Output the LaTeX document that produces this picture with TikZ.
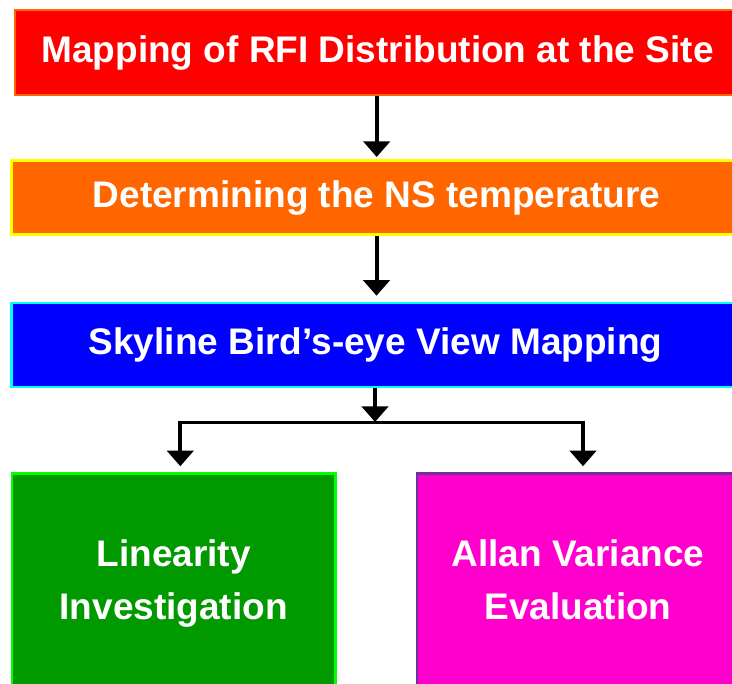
\documentclass[tikz,border=0pt]{standalone}
\usepackage{fontspec}
\setmainfont{Liberation Sans}
\usetikzlibrary{arrows.meta}

\definecolor{cRed}{HTML}{FF0000}
\definecolor{cOrange}{HTML}{FF6600}
\definecolor{cYellow}{HTML}{FFFF00}
\definecolor{cBlue}{HTML}{0000FF}
\definecolor{cCyan}{HTML}{00FFFF}
\definecolor{cGreen}{HTML}{009900}
\definecolor{cLime}{HTML}{00FF00}
\definecolor{cMagenta}{HTML}{FF00CC}
\definecolor{cPurple}{HTML}{6A3399}

\tikzset{
  box/.style={rectangle, line width=2.5pt, inner sep=0pt, text=white,
    font=\fontsize{37}{53}\selectfont\bfseries, align=center},
  oneline/.style={text height=27pt, text depth=7.5pt},
  arr/.style={line width=4pt, -{Triangle[width=26pt,length=15.5pt]}},
  rail/.style={line width=2.5pt}
}

\begin{document}
\begin{tikzpicture}[x=1pt,y=-1pt]
  \useasboundingbox (0,0) rectangle (732,684);
  \clip (0,0) rectangle (732,684);

  % process stages
  \node[box, oneline, fill=cRed, draw=cOrange, line width=2pt,
        minimum width=725pt, minimum height=85pt] (rfi) at (377.5,52.5)
        {Mapping of RFI Distribution at the Site};
  \node[box, oneline, fill=cOrange, draw=cYellow, line width=3pt,
        minimum width=730pt, minimum height=74pt] (ns) at (376.5,198)
        {Determining the NS temperature};
  \node[box, oneline, fill=cBlue, draw=cCyan,
        minimum width=728pt, minimum height=84pt] (sky) at (375.5,345)
        {Skyline Bird’s-eye View Mapping};
  \node[box, fill=cGreen, draw=cLime,
        minimum width=323.5pt, minimum height=220pt] (lin) at (173.7,583.5)
        {Linearity\\Investigation};
  \node[box, fill=cMagenta, draw=cPurple,
        minimum width=322pt, minimum height=220pt] (allan) at (578,583.5)
        {Allan Variance\\Evaluation\vphantom{g}};

  % branching points
  \coordinate (split) at (375,422.7);
  \coordinate (splitL) at (180.3,422.7);
  \coordinate (splitR) at (583,422.7);

  % connectors
  \draw[arr, shorten >=2.5pt] (376.7,0 |- rfi.south) -- (376.7,0 |- ns.north);
  \draw[arr, shorten >=6pt] (376.5,0 |- ns.south) -- (376.5,0 |- sky.north);
  \draw[arr, shorten >=0.7pt] (split |- sky.south) -- (split);
  \draw[rail] (splitL) -- (splitR);
  \draw[arr, shorten <=-1.25pt, shorten >=6pt] (splitL) -- (splitL |- lin.north);
  \draw[arr, shorten <=-1.25pt, shorten >=6pt] (splitR) -- (splitR |- allan.north);
\end{tikzpicture}
\end{document}
